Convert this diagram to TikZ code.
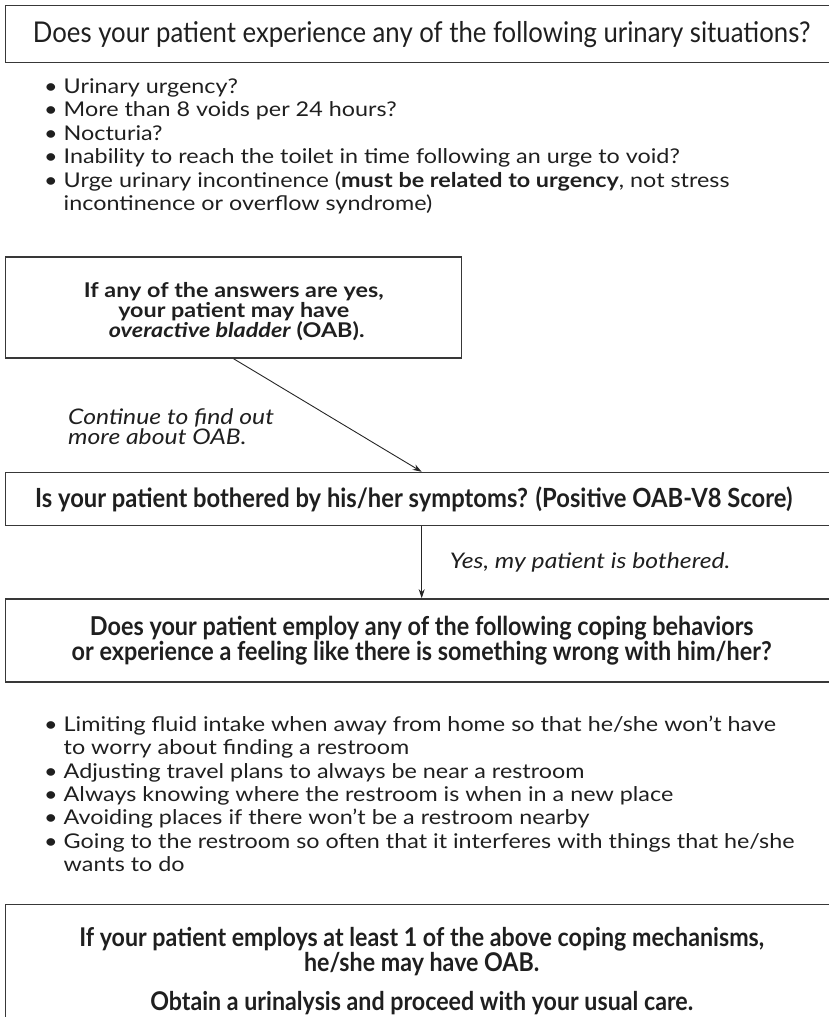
\documentclass[tikz,border=0pt]{standalone}
\usepackage{fontspec}
\setmainfont[FakeStretch=1.15]{Lato}
\newfontfamily\condfont[FakeStretch=0.9]{Lato}
\usetikzlibrary{arrows.meta,positioning}

\begin{document}
\begin{tikzpicture}[
    x=1pt, y=-1pt,
    text=black!88,
    frame/.style={
        rectangle,
        draw=black!78,
        line width=1.4pt,
        inner sep=0pt,
        align=center
    },
    widebox/.style={frame,minimum width=832pt},
    listtext/.style={align=left,inner sep=0pt,font=\fontsize{20.3}{23.4}\selectfont},
    note/.style={align=left,inner sep=0pt,font=\fontsize{21.5}{18}\selectfont\itshape},
    arrow/.style={-{Stealth[length=9pt,width=6pt]},line width=0.9pt,black!85}
]
    \useasboundingbox (0,0) rectangle (828,1017);

    % Boxes
    \node[widebox,anchor=north west,minimum height=57pt,
          font=\condfont\fontsize{28.6}{30}\selectfont] (question) at (5,5)
        {Does your patient experience any of the following urinary situations?};
    \node[listtext,below right=15pt and 39pt of question.south west] (symptoms)
        {\textbullet\ Urinary urgency?\\
         \textbullet\ More than 8 voids per 24 hours?\\
         \textbullet\ Nocturia?\\
         \textbullet\ Inability to reach the toilet in time following an urge to void?\\
         \textbullet\ Urge urinary incontinence (\textbf{must be related to urgency}, not stress\\
         \hphantom{\textbullet\ }incontinence or overflow syndrome)};
    \node[frame,below right=193pt and 0pt of question.south west,
          minimum width=456pt,minimum height=101pt,
          font=\bfseries\fontsize{20.3}{18}\selectfont] (advice)
        {\rule{0pt}{23pt}If any of the answers are yes,\\
         your patient may have\\
         \hspace{6pt}\textit{overactive bladder} (OAB).};
    \node[note,below right=50pt and 63pt of advice.south west] (continue)
        {Continue to find out\\more about OAB.};
    \node[widebox,below right=113pt and 0pt of advice.south west,minimum height=53pt,
          font=\condfont\bfseries\fontsize{26.4}{28}\selectfont] (bothered)
        {Is your patient bothered by his/her symptoms? (Positive OAB-V8 Score)\hspace*{16pt}};
    \node[widebox,below right=72pt and 0pt of bothered.south west,minimum height=83pt,
          font=\condfont\bfseries\fontsize{26}{22}\selectfont] (coping)
        {Does your patient employ any of the following coping behaviors\\
         or experience a feeling like there is something wrong with him/her?};
    \node[listtext,below right=33pt and 39pt of coping.south west] (behaviors)
        {\textbullet\ Limiting fluid intake when away from home so that he/she won't have\\
         \hphantom{\textbullet\ }to worry about finding a restroom\\
         \textbullet\ Adjusting travel plans to always be near a restroom\\
         \textbullet\ Always knowing where the restroom is when in a new place\\
         \textbullet\ Avoiding places if there won't be a restroom nearby\\
         \textbullet\ Going to the restroom so often that it interferes with things that he/she\\
         \hphantom{\textbullet\ }wants to do};
    \node[widebox,below right=221pt and 0pt of coping.south west,minimum height=134pt,
          font=\condfont\bfseries\fontsize{25.8}{21}\selectfont] (decision)
        {If your patient employs at least 1 of the above coping mechanisms,\\
         he/she may have OAB.\\[15pt]
         Obtain a urinalysis and proceed with your usual care.};

    % Arrows
    \draw[arrow] (advice.south) -- (bothered.north);
    \draw[arrow] (bothered.south) -- coordinate (mid) (coping.north);
    \node[note,right=28pt of mid] (yes) {Yes, my patient is bothered.};
\end{tikzpicture}
\end{document}
